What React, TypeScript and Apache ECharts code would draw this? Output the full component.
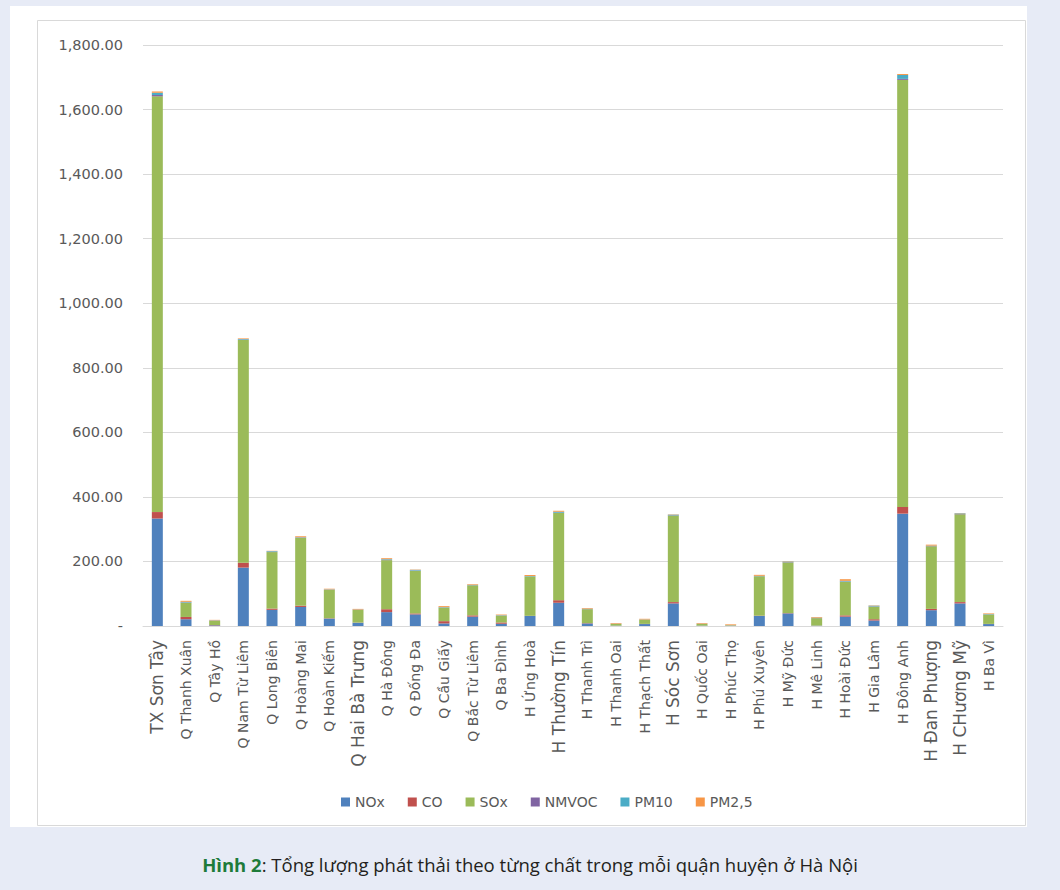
import React, { useEffect, useRef } from "react";
import * as echarts from "echarts";

const categories = [
  "TX Sơn Tây", "Q Thanh Xuân", "Q Tây Hồ", "Q Nam Từ Liêm", "Q Long Biên",
  "Q Hoàng Mai", "Q Hoàn Kiếm", "Q Hai Bà Trưng", "Q Hà Đông", "Q Đống Đa",
  "Q Cầu Giấy", "Q Bắc Từ Liêm", "Q Ba Đình", "H Ứng Hoà", "H Thường Tín",
  "H Thanh Trì", "H Thanh Oai", "H Thạch Thất", "H Sóc Sơn", "H Quốc Oai",
  "H Phúc Thọ", "H Phú Xuyên", "H Mỹ Đức", "H Mê Linh", "H Hoài Đức",
  "H Gia Lâm", "H Đông Anh", "H Đan Phượng", "H CHương Mỹ", "H Ba Vì",
];

const bigLabels = ["TX Sơn Tây", "Q Hai Bà Trưng", "H Thường Tín", "H Sóc Sơn", "H Đan Phượng", "H CHương Mỹ"];

const nox = [333, 21, 2, 181, 50, 59, 23, 10, 43, 36, 8, 29, 7, 31, 72, 8, 1, 6, 70, 1, 0.5, 31, 39, 1, 29, 17, 348, 49, 70, 6];
const co = [20, 7, 1, 15, 4, 4, 1, 0.5, 9, 3, 7, 4, 4, 0.5, 8, 1, 0.2, 0.5, 4, 0.2, 0.1, 1, 1, 0.3, 4, 4, 21, 4, 4, 0.5];
const sox = [1288, 44, 13, 690, 175, 210, 88, 39, 152, 132, 42, 93, 21, 122, 270, 43, 5, 13, 268, 5, 1.5, 122, 157, 23, 104, 39, 1323, 194, 272, 29];
const nmvoc = [4, 1, 0.5, 1, 1, 1, 0.5, 0.5, 1, 1, 0.5, 0.5, 0.5, 0.5, 1, 0.5, 0.3, 0.3, 1, 0.3, 0.2, 0.5, 1, 0.5, 1, 1, 3, 1, 1, 0.5];
const pm10 = [7, 2, 1, 2, 2, 1, 1, 1, 2, 2, 1, 1, 1, 1, 3, 1, 0.5, 0.5, 2, 0.5, 0.3, 1, 1.5, 1, 2, 2, 12, 1, 2, 1];
const pm25 = [4, 3, 1.5, 2, 1, 3, 2, 2, 3, 1, 3, 2, 2, 3, 3, 2, 2, 2, 1, 2, 2.5, 3, 1, 2, 5, 1, 3, 3, 1, 2];

const seriesNames = ["NOx", "CO", "SOx", "NMVOC", "PM10", "PM2,5"];
const seriesData = [nox, co, sox, nmvoc, pm10, pm25];
const colors = ["#4F81BD", "#C0504D", "#9BBB59", "#8064A2", "#4BACC6", "#F79646"];

const yTicks = { min: 0, max: 1800, interval: 200 };

export default function App() {
  const ref = useRef<HTMLDivElement>(null);
  useEffect(() => {
    if (!ref.current) return;
    const chart = echarts.init(ref.current, null, { renderer: "svg" });
    const font = "'DejaVu Sans', sans-serif";
    chart.setOption({
      animation: false,
      backgroundColor: "#e7ebf6",
      color: colors,
      grid: { left: 143, right: 57, top: 45, bottom: 264, containLabel: false },
      legend: {
        data: seriesNames,
        left: 336,
        top: 790,
        icon: "rect",
        itemWidth: 9,
        itemHeight: 9,
        itemGap: 23,
        textStyle: { color: "#595959", fontSize: 14, fontFamily: font },
      },
      xAxis: {
        type: "category",
        data: categories,
        axisLine: { lineStyle: { color: "#d9d9d9" } },
        axisTick: { show: false },
        axisLabel: {
          interval: 0,
          rotate: 90,
          margin: 14,
          color: "#595959",
          fontFamily: font,
          formatter: (v: string) => (bigLabels.includes(v) ? `{b|${v}}` : `{a|${v}}`),
          rich: {
            a: { fontSize: 14, color: "#595959", fontFamily: font },
            b: { fontSize: 17, color: "#595959", fontFamily: font },
          },
        },
      },
      yAxis: {
        type: "value",
        min: yTicks.min,
        max: yTicks.max,
        interval: yTicks.interval,
        axisLine: { show: false },
        axisTick: { show: false },
        splitLine: { lineStyle: { color: "#d9d9d9" } },
        axisLabel: {
          color: "#595959",
          fontSize: 14.5,
          fontFamily: font,
          margin: 20,
          formatter: (v: number) =>
            v === 0 ? "-" : v.toLocaleString("en-US", { minimumFractionDigits: 2, maximumFractionDigits: 2 }),
        },
      },
      series: seriesNames.map((name, i) => ({
        name,
        type: "bar",
        stack: "total",
        barWidth: 11,
        data: seriesData[i],
        itemStyle: { color: colors[i] },
      })),
      graphic: [
        {
          type: "rect",
          z: -10,
          shape: { x: 10, y: 6, width: 1017, height: 821 },
          style: { fill: "#ffffff" },
          silent: true,
        },
        {
          type: "rect",
          z: -9,
          shape: { x: 37.5, y: 20.5, width: 988, height: 805 },
          style: { fill: "none", stroke: "#d9d9d9", lineWidth: 1 },
          silent: true,
        },
        {
          type: "text",
          left: "center",
          top: 855,
          style: {
            text: "{g|Hình 2}{n|: Tổng lượng phát thải theo từng chất trong mỗi quận huyện ở Hà Nội}",
            rich: {
              g: { fontSize: 18.5, fontWeight: "bold", fill: "#1e7b3a", fontFamily: "'Open Sans', sans-serif" },
              n: { fontSize: 18.5, fill: "#231f20", fontFamily: "'Open Sans', sans-serif" },
            },
          },
        },
      ],
    });
    return () => chart.dispose();
  }, []);
  return (
    <div
      ref={ref}
      style={{ position: "absolute", left: 0, top: 0, width: 1060, height: 890 }}
    />
  );
}
